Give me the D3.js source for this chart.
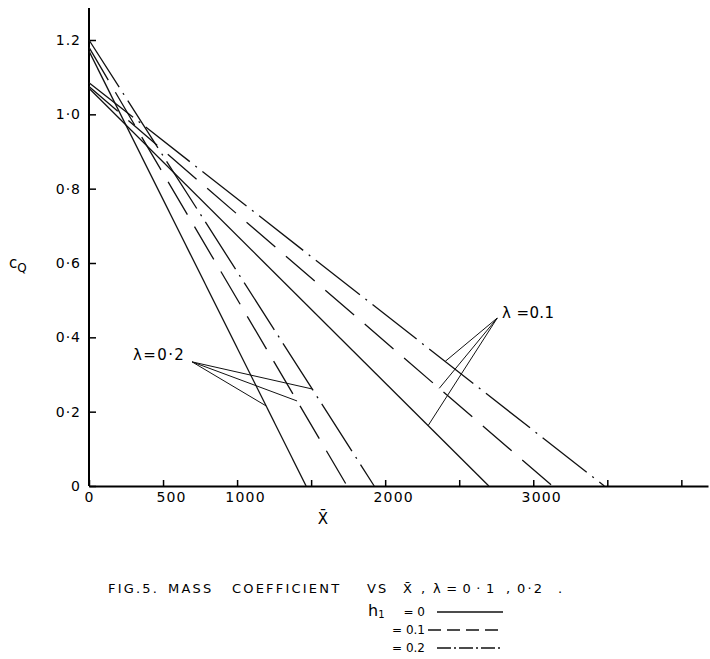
<!DOCTYPE html>
<html>
<head>
<meta charset="utf-8">
<script src="https://cdn.jsdelivr.net/npm/d3@7"></script>
<style>
  body { margin: 0; background: #fff; }
  svg { display: block; font-family: "DejaVu Sans", sans-serif; }
</style>
</head>
<body>
<div id="chart"></div>
<script>
// --------------------------------------------------
// Mass coefficient c_Q vs X-bar, lambda = 0.1, 0.2
// --------------------------------------------------

// h1 values, one line per value and lambda
var h1Values = ["0", "0.1", "0.2"];

// lambda = 0.1 : c_Q at X = 0 and X where c_Q reaches 0
var cqStartLambda01 = [1.07, 1.075, 1.085];
var xEndLambda01 = [2700, 3130, 3480];

// lambda = 0.2
var cqStartLambda02 = [1.17, 1.18, 1.2];
var xEndLambda02 = [1466, 1743, 1926];

// where the label leader lines touch each line (X value)
var leaderXLambda01 = [2290, 2365, 2405];
var leaderXLambda02 = [1196, 1405, 1507];

// ticks
var xTicks = [0, 500, 1000, 1500, 2000, 2500, 3000, 3500, 4000];
var xTickLabels = ["0", "500", "1000", "", "2000", "", "3000", "", ""];
var yTicks = [0, 0.2, 0.4, 0.6, 0.8, 1.0, 1.2];
var yTickLabels = ["0", "0·2", "0·4", "0·6", "0·8", "1·0", "1.2"];

// caption words
var captionWords = ["FIG.5.", "MASS", "COEFFICIENT", "VS", "X\u0304", ",", "λ=0·1", ",", "0·2", "."];
var captionX = [108, 168, 232, 367, 403, 421, 433, 506, 517, 558];

var width = 710;
var height = 659;

var dashes = ["none", "38,14", "56,7,2,7"];
var legendDashes = ["none", "13,6", "14,3,2,3"];

var svg = d3.select("#chart")
  .append("svg")
  .attr("width", width)
  .attr("height", height);

var xScale = d3.scaleLinear()
  .domain([0, 4180])
  .range([89, 708]);

var yScale = d3.scaleLinear()
  .domain([0, 1.2])
  .range([486, 40]);

// axes
var xAxis = svg.append("g")
  .attr("transform", "translate(0," + yScale(0) + ")")
  .call(d3.axisBottom(xScale)
    .tickValues(xTicks)
    .tickSize(-6)
    .tickSizeOuter(0)
    .tickPadding(6)
    .tickFormat(function(d, i) { return xTickLabels[i]; }));

xAxis.attr("font-size", 14).attr("font-family", null);
xAxis.select(".domain").attr("stroke-width", 2);
xAxis.selectAll(".tick line").attr("stroke-width", 1.5);
xAxis.selectAll(".tick text")
  .attr("letter-spacing", 1.2)
  .attr("dx", function(d) { return d === 0 ? 0 : 8; });

var yAxis = svg.append("g")
  .attr("transform", "translate(" + xScale(0) + ",0)")
  .call(d3.axisLeft(yScale)
    .tickValues(yTicks)
    .tickSize(-7)
    .tickSizeOuter(0)
    .tickPadding(8)
    .tickFormat(function(d, i) { return yTickLabels[i]; }));

yAxis.attr("font-size", 14).attr("font-family", null);
yAxis.select(".domain")
  .attr("d", "M0," + yScale(0) + "V8")
  .attr("stroke-width", 2);
yAxis.selectAll(".tick line").attr("stroke-width", 1.5);
yAxis.selectAll(".tick text").attr("letter-spacing", 1);

// axis titles
var cq = svg.append("text")
  .attr("x", 9)
  .attr("y", yScale(0.6) + 5)
  .attr("font-size", 15);
cq.append("tspan").text("c");
cq.append("tspan").attr("font-size", 12).attr("dy", 4).text("Q");

svg.append("text")
  .attr("x", 323)
  .attr("y", 524)
  .attr("text-anchor", "middle")
  .attr("font-size", 15)
  .text("X\u0304");

// lines
function drawGroup(cqStart, xEnd) {
  cqStart.forEach(function(c, i) {
    svg.append("line")
      .attr("x1", xScale(0))
      .attr("y1", yScale(c))
      .attr("x2", xScale(xEnd[i]))
      .attr("y2", yScale(0))
      .attr("stroke", "#111")
      .attr("stroke-width", 1.3)
      .attr("stroke-dasharray", dashes[i]);
  });
}

drawGroup(cqStartLambda01, xEndLambda01);
drawGroup(cqStartLambda02, xEndLambda02);

// labels with leader lines
function cqAt(c0, xEnd, x) {
  return c0 * (1 - x / xEnd);
}

function drawLabel(text, labelX, labelCq, tx, ty, spacing, cqStart, xEnd, leaderX) {
  leaderX.forEach(function(x, i) {
    svg.append("line")
      .attr("x1", xScale(labelX))
      .attr("y1", yScale(labelCq))
      .attr("x2", xScale(x))
      .attr("y2", yScale(cqAt(cqStart[i], xEnd[i], x)))
      .attr("stroke", "#111")
      .attr("stroke-width", 1);
  });
  svg.append("text")
    .attr("x", tx)
    .attr("y", ty)
    .attr("font-size", 15)
    .attr("letter-spacing", spacing)
    .text(text);
}

drawLabel("λ =0.1", 2757, 0.452, 502, 318, 0.4, cqStartLambda01, xEndLambda01, leaderXLambda01);
drawLabel("λ=0·2", 696, 0.334, 133, 360, 1.4, cqStartLambda02, xEndLambda02, leaderXLambda02);

// caption
var caption = svg.append("text")
  .attr("y", 593)
  .attr("font-size", 13)
  .attr("letter-spacing", 2.2);

captionWords.forEach(function(w, i) {
  caption.append("tspan")
    .attr("x", captionX[i])
    .attr("letter-spacing", w === "λ=0·1" ? 5.5 : null)
    .text(w);
});

// legend
var h1 = svg.append("text")
  .attr("x", 368)
  .attr("y", 616);
h1.append("tspan").attr("font-size", 16).text("h");
h1.append("tspan").attr("font-size", 10).attr("dy", 2).text("1");

h1Values.forEach(function(h, i) {
  var ly = 612 + i * 18;
  svg.append("text")
    .attr("x", 425)
    .attr("y", ly + 4)
    .attr("text-anchor", "end")
    .attr("font-size", 12)
    .text("= " + h + (i === 0 ? " " : ""));
  svg.append("line")
    .attr("x1", i === 1 ? 428 : 437)
    .attr("x2", 503)
    .attr("y1", ly)
    .attr("y2", ly)
    .attr("stroke", "#111")
    .attr("stroke-width", 1.5)
    .attr("stroke-dasharray", legendDashes[i]);
});
</script>
</body>
</html>
